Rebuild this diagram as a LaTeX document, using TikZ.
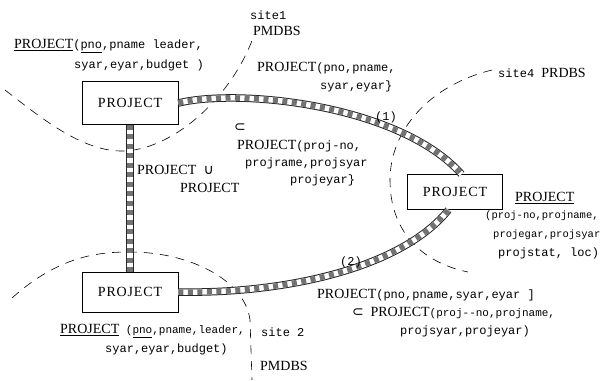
\documentclass[tikz,border=0pt]{standalone}
\usepackage{fontspec}
\setmainfont{Liberation Serif}
\setmonofont{Liberation Mono}
\newfontfamily\boxfont[LetterSpace=6]{Liberation Serif}
\newfontfamily\symfont{DejaVu Sans}
\newcommand{\PJ}{{\rmfamily\fontsize{14}{16}\selectfont PROJECT}}
\newcommand{\UPJ}{{\rmfamily\fontsize{14}{16}\selectfont\underline{PROJECT}}}
\newcommand{\SR}[1]{{\rmfamily\fontsize{14}{16}\selectfont #1}}
\newcommand{\SYM}[1]{{\symfont\fontsize{14}{16}\selectfont #1}}
\begin{document}
\begin{tikzpicture}[x=1pt,y=-1pt,
  lbl/.style={anchor=west,inner sep=0pt,font=\ttfamily\fontsize{12}{14}\selectfont},
  small/.style={font=\ttfamily\fontsize{11}{13}\selectfont},
  tiny/.style={font=\ttfamily\fontsize{10.5}{12}\selectfont},
  box/.style={draw,line width=0.7pt,fill=white,inner sep=0pt,font=\boxfont\fontsize{14}{16}\selectfont},
  site/.style={dash pattern=on 9pt off 7pt,line width=0.6pt},
  band/.style={draw=black!85,line width=7.5pt,
    postaction={draw=white,line width=5.5pt},
    postaction={draw=black!55,line width=5.5pt,dash pattern=on 5pt off 4.5pt}},
]
\useasboundingbox (0,0) rectangle (602,380);

% site boundaries
\draw[site] (5,90) .. controls (40,117) and (80,150) .. (120,151)
  .. controls (170,152) and (230,100) .. (253,38);
\draw[site] (492,70) .. controls (430,85) and (390,130) .. (390,180)
  .. controls (390,230) and (420,262) .. (468,272);
\draw[site] (12,298) .. controls (60,255) and (100,252) .. (130,252)
  .. controls (190,252) and (245,280) .. (250,320) -- (252,380);

% boxes
\node[box,minimum width=96pt,minimum height=43pt] (A) at (130,103) {PROJECT};
\node[box,minimum width=96pt,minimum height=40pt] (B) at (130,292) {PROJECT};
\node[box,minimum width=95pt,minimum height=35pt] (C) at (455,192) {PROJECT};

% connectors
\path[band] (A.south) -- (B.north);
\path[band] (A.east) .. controls (240,88) and (400,105) .. (C.70);
\path[band] (B.east) .. controls (280,294) and (400,270) .. (C.250);

% labels
\node[lbl] (s1a) at (250,15) {site1};
\node[lbl] (s1b) at (253,31) {\SR{PMDBS}};
\node[lbl] (t1a) at (14,46) {\UPJ(\underline{pno},pname leader,};
\node[lbl] (t1b) at (74,65) {syar,eyar,budget )};
\node[lbl] (t2a) at (257,68) {\PJ(pno,pname,};
\node[lbl] (t2b) at (320,86) {syar,eyar\}};
\node[lbl] (s4) at (498,73) {site4 \SR{PRDBS}};
\node[lbl] (n1) at (375,117) {(1)};
\node[lbl] (sub1) at (234,128) {\SYM{⊂}};
\node[lbl] (t3a) at (237,146) {\PJ(proj-no,};
\node[lbl] (t3b) at (245,163) {projrame,projsyar};
\node[lbl] (t3c) at (290,180) {projeyar\}};
\node[lbl] (u1) at (137,170) {\PJ\ \SYM{∪}};
\node[lbl] (u2) at (180,188) {\PJ};
\node[lbl] (r1) at (515,198) {\UPJ};
\node[lbl,tiny] (r2) at (485,216) {(proj-no,projname,};
\node[lbl,tiny] (r3) at (493,235) {projegar,projsyar};
\node[lbl] (r4) at (498,253) {projstat, loc)};
\node[lbl] (n2) at (340,262) {(2)};
\node[lbl] (b1) at (317,295) {\PJ(pno,pname,syar,eyar ]};
\node[lbl,small] (b2) at (352,313) {\SYM{⊂} \PJ(proj--no,projname,};
\node[lbl] (b3) at (400,331) {projsyar,projeyar)};
\node[lbl,small] (l1) at (60,331) {\UPJ\ (\underline{pno},pname,leader,};
\node[lbl] (l2) at (105,349) {syar,eyar,budget)};
\node[lbl] (s2a) at (261,332) {site 2};
\node[lbl] (s2b) at (260,366) {\SR{PMDBS}};
\end{tikzpicture}
\end{document}
